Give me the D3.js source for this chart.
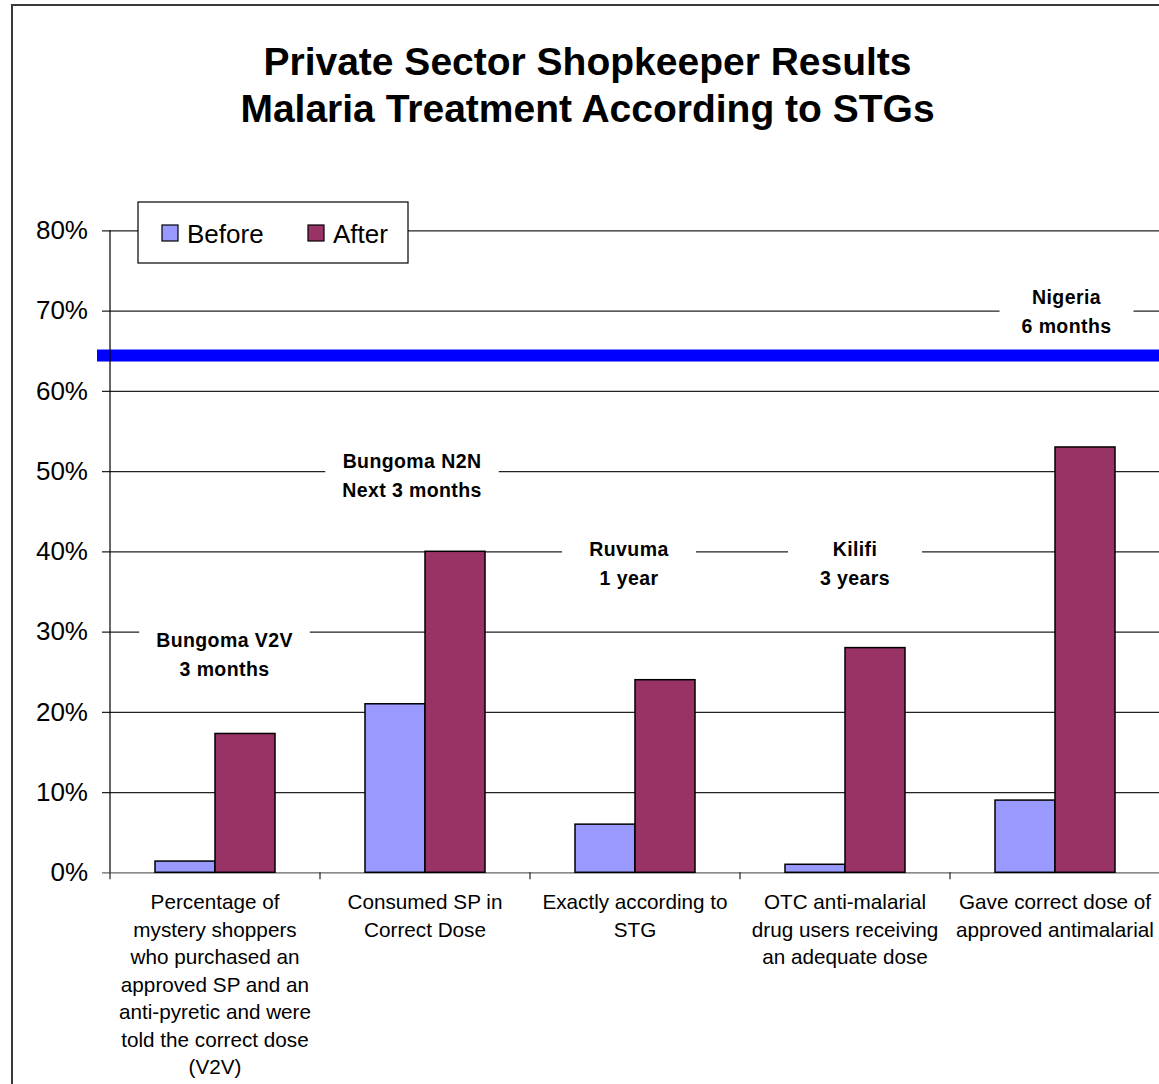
<!DOCTYPE html>
<html>
<head>
<meta charset="utf-8">
<script src="https://cdn.jsdelivr.net/npm/d3@7"></script>
<style>
  body { margin: 0; background: #fff; }
  svg { display: block; font-family: "Liberation Sans", Arial, sans-serif; }
</style>
</head>
<body>
<script>
var categories = [
  'Percentage of\nmystery shoppers\nwho purchased an\napproved SP and an\nanti-pyretic and were\ntold the correct dose\n(V2V)',
  'Consumed SP in\nCorrect Dose',
  'Exactly according to\nSTG',
  'OTC anti-malarial\ndrug users receiving\nan adequate dose',
  'Gave correct dose of\napproved antimalarial'
];
var seriesNames = ['Before', 'After'];
var beforeValues = [0.014, 0.21, 0.06, 0.01, 0.09];
var afterValues = [0.173, 0.40, 0.24, 0.28, 0.53];
var yTicks = [0, 0.1, 0.2, 0.3, 0.4, 0.5, 0.6, 0.7, 0.8];
var siteLabels = ['Bungoma V2V\n3 months', 'Bungoma N2N\nNext 3 months', 'Ruvuma\n1 year', 'Kilifi\n3 years', 'Nigeria\n6 months'];
var siteLevels = [0.289, 0.513, 0.403, 0.403, 0.717];
var targetLevel = 0.644;

var colors = { Before: '#9999ff', After: '#993366' };

var width = 1159;
var height = 1084;
var plotLeft = 110, plotRight = 1160, plotTop = 230.3, plotBottom = 872.3;

var svg = d3.select('body').append('svg')
  .attr('width', width)
  .attr('height', height);

svg.append('rect')
  .attr('x', 12).attr('y', 5)
  .attr('width', width + 20).attr('height', height + 20)
  .attr('fill', '#fff')
  .attr('stroke', '#3a3a3a')
  .attr('stroke-width', 2);

// title
var title = svg.append('text')
  .attr('text-anchor', 'middle')
  .attr('font-weight', 'bold')
  .attr('font-size', 39)
  .attr('fill', '#000');
title.append('tspan').attr('x', 587.5).attr('y', 75).text('Private Sector Shopkeeper Results');
title.append('tspan').attr('x', 587.5).attr('y', 122).text('Malaria Treatment According to STGs');

var x0 = d3.scaleBand().domain(d3.range(categories.length)).range([plotLeft, plotRight]).padding(0);
var x1 = d3.scaleBand().domain(seriesNames).range([0, x0.bandwidth()]).paddingInner(0).paddingOuter(0.75);
var y = d3.scaleLinear().domain([0, 0.8]).range([plotBottom, plotTop]);

// gridlines + y labels
var yAxis = svg.append('g')
  .attr('transform', 'translate(' + plotLeft + ',0)')
  .call(d3.axisLeft(y).tickValues(yTicks).tickFormat(d3.format('.0%')).tickSize(-(plotRight - plotLeft)).tickPadding(22));
yAxis.select('.domain').remove();
yAxis.selectAll('.tick line')
  .attr('x1', -8)
  .attr('stroke', function(d) { return d === 0 ? '#666' : '#222'; })
  .attr('stroke-width', 1.2);
yAxis.selectAll('.tick text')
  .attr('font-size', 26)
  .attr('font-family', '"Liberation Sans", Arial, sans-serif')
  .attr('fill', '#000');

// target line
svg.append('line')
  .attr('x1', 97).attr('x2', width)
  .attr('y1', y(targetLevel)).attr('y2', y(targetLevel))
  .attr('stroke', '#0000ff')
  .attr('stroke-width', 12);

// bars
var groups = svg.selectAll('g.cat')
  .data(categories)
  .enter().append('g')
  .attr('class', 'cat')
  .attr('transform', function(d, i) { return 'translate(' + x0(i) + ',0)'; });

groups.selectAll('rect')
  .data(function(d, i) {
    return [{ s: 'Before', v: beforeValues[i] }, { s: 'After', v: afterValues[i] }];
  })
  .enter().append('rect')
  .attr('x', function(d) { return x1(d.s); })
  .attr('y', function(d) { return y(d.v); })
  .attr('width', x1.bandwidth())
  .attr('height', function(d) { return y(0) - y(d.v); })
  .attr('fill', function(d) { return colors[d.s]; })
  .attr('stroke', '#000')
  .attr('stroke-width', 1.5);

// y axis line
svg.append('line')
  .attr('x1', plotLeft).attr('x2', plotLeft)
  .attr('y1', plotTop).attr('y2', plotBottom)
  .attr('stroke', '#000').attr('stroke-width', 1.2);

// category ticks
svg.selectAll('line.ctick')
  .data(d3.range(categories.length + 1))
  .enter().append('line')
  .attr('class', 'ctick')
  .attr('x1', function(i) { return plotLeft + i * x0.step(); })
  .attr('x2', function(i) { return plotLeft + i * x0.step(); })
  .attr('y1', plotBottom).attr('y2', plotBottom + 7)
  .attr('stroke', '#222').attr('stroke-width', 1.2);

// category labels
groups.append('text')
  .attr('text-anchor', 'middle')
  .attr('font-size', 20.7)
  .attr('fill', '#000')
  .each(function(d) {
    var t = d3.select(this);
    d.split('\n').forEach(function(line, k) {
      t.append('tspan')
        .attr('x', x0.bandwidth() / 2)
        .attr('y', 909 + k * 27.5)
        .text(line);
    });
  });

// site annotations
var shifts = [9.5, -13, -6, 10, 11.5];
siteLabels.forEach(function(lbl, i) {
  var cx = x0(i) + x0.bandwidth() / 2 + shifts[i];
  var cy = y(siteLevels[i]);
  var g = svg.append('g');
  var box = g.append('rect').attr('fill', '#fff');
  var t = g.append('text')
    .attr('text-anchor', 'middle')
    .attr('font-weight', 'bold')
    .attr('font-size', 19.5)
    .attr('letter-spacing', 0.4)
    .attr('fill', '#000');
  lbl.split('\n').forEach(function(line, k) {
    t.append('tspan').attr('x', cx).attr('y', cy + 7 + k * 29).text(line);
  });
  var w = Math.max(t.node().getBBox().width + 34, 134);
  box.attr('x', cx - w / 2).attr('y', cy - 20).attr('width', w).attr('height', 70);
});

// legend
var legend = svg.append('g').attr('transform', 'translate(138,202)');
legend.append('rect')
  .attr('width', 270).attr('height', 61)
  .attr('fill', '#fff').attr('stroke', '#000').attr('stroke-width', 1.2);
var legendX = [24, 170];
seriesNames.forEach(function(s, i) {
  legend.append('rect')
    .attr('x', legendX[i]).attr('y', 23)
    .attr('width', 16).attr('height', 16)
    .attr('fill', colors[s]).attr('stroke', '#000').attr('stroke-width', 1.2);
  legend.append('text')
    .attr('x', legendX[i] + 25).attr('y', 41)
    .attr('font-size', 26)
    .attr('fill', '#000')
    .text(s);
});
</script>
</body>
</html>
